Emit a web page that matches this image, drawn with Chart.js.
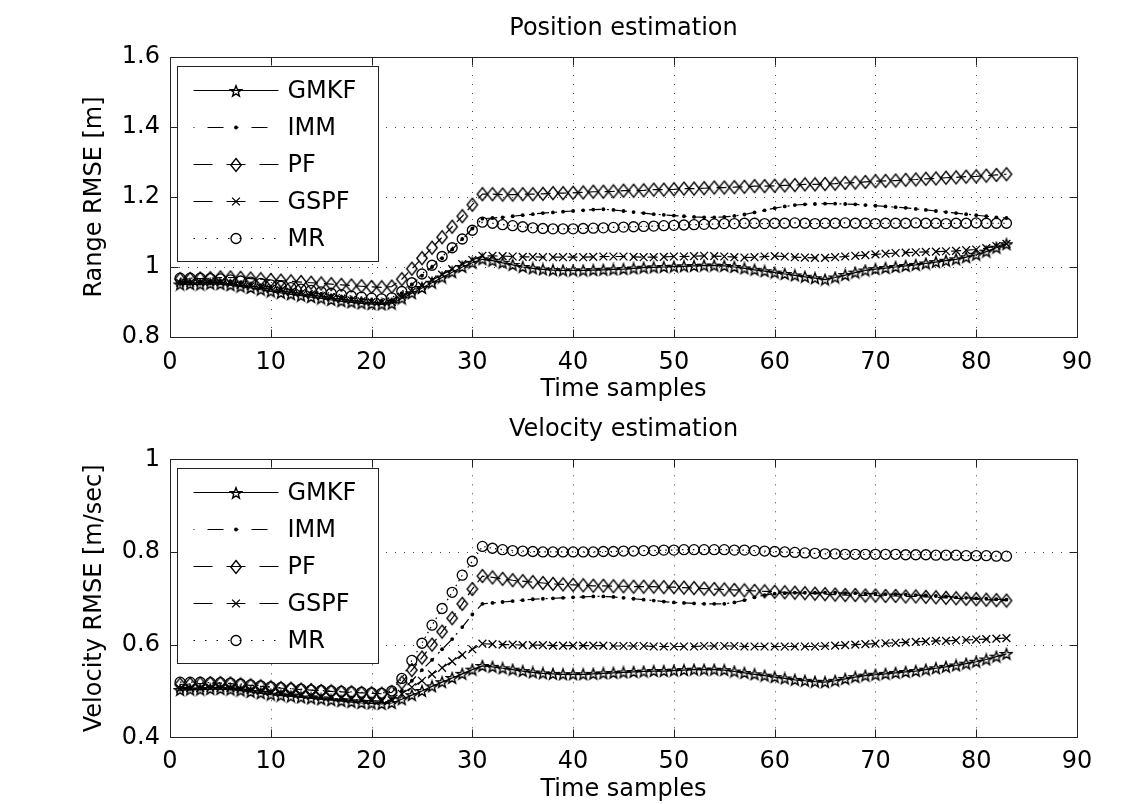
<!DOCTYPE html>
<html><head><meta charset="utf-8">
<script src="https://cdn.jsdelivr.net/npm/chart.js@4.4.1/dist/chart.umd.min.js"></script>
<style>
html,body{margin:0;padding:0;background:#fff;width:1148px;height:804px;overflow:hidden;}
#wrap{position:relative;width:1148px;height:804px;background:#fff;}
#c1{position:absolute;left:0;top:0;}
#c2{position:absolute;left:0;top:402px;}
</style></head><body>
<div id="wrap"><canvas id="c1" width="1148" height="420"></canvas><canvas id="c2" width="1148" height="410"></canvas></div>
<script>
// ---------------- data ----------------
const timeSamples = [1,2,3,4,5,6,7,8,9,10,11,12,13,14,15,16,17,18,19,20,21,22,23,24,25,26,27,28,29,30,31,32,33,34,35,36,37,38,39,40,41,42,43,44,45,46,47,48,49,50,51,52,53,54,55,56,57,58,59,60,61,62,63,64,65,66,67,68,69,70,71,72,73,74,75,76,77,78,79,80,81,82,83];
const seriesNames = ['GMKF','IMM','PF','GSPF','MR'];
const xTickLabels = ['0','10','20','30','40','50','60','70','80','90'];
const yTickLabelsPos = ['0.8','1','1.2','1.4','1.6'];
const yTickLabelsVel = ['0.4','0.6','0.8','1'];

// Position estimation (Range RMSE [m])
const posGMKF = [0.950,0.951,0.950,0.952,0.951,0.948,0.944,0.940,0.935,0.930,0.926,0.922,0.918,0.914,0.910,0.906,0.902,0.899,0.896,0.894,0.893,0.895,0.910,0.925,0.940,0.955,0.970,0.985,1.000,1.012,1.022,1.018,1.012,1.006,1.000,0.996,0.993,0.991,0.990,0.990,0.990,0.991,0.992,0.993,0.994,0.996,0.998,0.999,1.000,1.001,1.002,1.003,1.004,1.004,1.003,1.000,0.996,0.992,0.988,0.984,0.980,0.976,0.972,0.968,0.964,0.970,0.977,0.984,0.990,0.994,0.997,1.000,1.003,1.006,1.010,1.014,1.018,1.022,1.028,1.035,1.044,1.055,1.065];
const posIMM = [0.958,0.958,0.959,0.960,0.960,0.958,0.955,0.951,0.947,0.943,0.939,0.935,0.931,0.927,0.923,0.919,0.915,0.911,0.908,0.905,0.903,0.905,0.925,0.950,0.975,1.000,1.025,1.050,1.080,1.110,1.138,1.140,1.142,1.145,1.148,1.151,1.154,1.156,1.158,1.160,1.162,1.164,1.165,1.163,1.160,1.157,1.154,1.151,1.149,1.147,1.145,1.143,1.142,1.142,1.143,1.146,1.150,1.156,1.162,1.168,1.173,1.177,1.179,1.180,1.181,1.181,1.180,1.179,1.177,1.175,1.173,1.171,1.169,1.166,1.163,1.160,1.157,1.154,1.151,1.148,1.145,1.142,1.140];
const posPF = [0.965,0.966,0.967,0.968,0.970,0.970,0.969,0.967,0.965,0.963,0.961,0.959,0.957,0.955,0.953,0.951,0.949,0.947,0.945,0.943,0.942,0.944,0.965,0.995,1.025,1.055,1.085,1.115,1.145,1.178,1.208,1.208,1.207,1.207,1.208,1.208,1.209,1.211,1.211,1.212,1.213,1.215,1.215,1.216,1.218,1.218,1.219,1.221,1.221,1.222,1.224,1.224,1.225,1.227,1.227,1.228,1.229,1.231,1.231,1.232,1.233,1.234,1.236,1.236,1.237,1.238,1.240,1.241,1.243,1.245,1.246,1.247,1.249,1.250,1.252,1.253,1.255,1.256,1.258,1.259,1.261,1.263,1.265];
const posGSPF = [0.955,0.955,0.956,0.957,0.956,0.953,0.949,0.945,0.941,0.937,0.933,0.929,0.925,0.921,0.917,0.913,0.909,0.905,0.902,0.900,0.899,0.900,0.915,0.930,0.946,0.962,0.978,0.994,1.008,1.020,1.032,1.032,1.031,1.030,1.029,1.029,1.028,1.028,1.028,1.028,1.028,1.029,1.030,1.030,1.030,1.029,1.028,1.028,1.029,1.030,1.030,1.031,1.032,1.031,1.030,1.028,1.027,1.028,1.030,1.031,1.030,1.028,1.027,1.026,1.026,1.028,1.030,1.032,1.034,1.036,1.038,1.040,1.041,1.042,1.043,1.044,1.045,1.046,1.048,1.050,1.054,1.060,1.066];
const posMR = [0.968,0.968,0.968,0.967,0.966,0.963,0.960,0.957,0.953,0.949,0.945,0.941,0.937,0.933,0.929,0.925,0.921,0.917,0.914,0.911,0.909,0.912,0.930,0.955,0.980,1.005,1.030,1.055,1.080,1.105,1.128,1.125,1.121,1.118,1.115,1.112,1.110,1.109,1.109,1.109,1.110,1.111,1.112,1.113,1.114,1.115,1.116,1.117,1.118,1.119,1.120,1.121,1.122,1.123,1.124,1.124,1.125,1.125,1.124,1.125,1.125,1.126,1.125,1.124,1.125,1.125,1.126,1.125,1.125,1.124,1.125,1.125,1.125,1.126,1.125,1.125,1.124,1.125,1.125,1.126,1.125,1.125,1.125];

// Velocity estimation (Velocity RMSE [m/sec])
const velGMKF = [0.502,0.503,0.503,0.504,0.504,0.503,0.501,0.498,0.495,0.492,0.490,0.488,0.486,0.484,0.482,0.480,0.478,0.476,0.474,0.473,0.472,0.474,0.482,0.491,0.500,0.510,0.519,0.528,0.537,0.546,0.554,0.552,0.549,0.546,0.543,0.540,0.538,0.537,0.536,0.536,0.536,0.537,0.538,0.539,0.540,0.541,0.542,0.543,0.543,0.544,0.545,0.546,0.546,0.546,0.545,0.542,0.539,0.536,0.533,0.530,0.527,0.524,0.522,0.520,0.519,0.522,0.526,0.530,0.533,0.535,0.537,0.539,0.541,0.543,0.546,0.549,0.552,0.555,0.559,0.563,0.568,0.574,0.580];
const velIMM = [0.507,0.507,0.508,0.508,0.508,0.507,0.505,0.503,0.500,0.497,0.494,0.492,0.490,0.488,0.486,0.484,0.482,0.481,0.480,0.479,0.478,0.481,0.500,0.522,0.545,0.567,0.590,0.612,0.638,0.665,0.688,0.690,0.692,0.694,0.696,0.698,0.699,0.700,0.701,0.702,0.703,0.704,0.704,0.703,0.701,0.699,0.697,0.695,0.693,0.691,0.690,0.689,0.688,0.688,0.688,0.691,0.696,0.702,0.707,0.710,0.711,0.712,0.712,0.712,0.712,0.712,0.711,0.711,0.710,0.710,0.709,0.709,0.708,0.707,0.706,0.705,0.704,0.702,0.701,0.700,0.699,0.698,0.697];
const velPF = [0.514,0.515,0.516,0.517,0.517,0.516,0.514,0.512,0.510,0.508,0.506,0.505,0.503,0.502,0.500,0.499,0.498,0.497,0.496,0.495,0.494,0.497,0.518,0.545,0.572,0.600,0.628,0.657,0.688,0.720,0.748,0.745,0.742,0.739,0.737,0.735,0.733,0.731,0.730,0.729,0.728,0.727,0.727,0.726,0.726,0.725,0.725,0.725,0.724,0.724,0.723,0.722,0.721,0.720,0.719,0.718,0.717,0.716,0.715,0.714,0.713,0.712,0.711,0.710,0.709,0.708,0.707,0.707,0.706,0.706,0.705,0.705,0.704,0.704,0.703,0.702,0.701,0.700,0.699,0.698,0.697,0.696,0.695];
const velGSPF = [0.505,0.506,0.506,0.507,0.507,0.506,0.504,0.502,0.500,0.498,0.496,0.494,0.492,0.490,0.488,0.486,0.484,0.482,0.480,0.479,0.478,0.480,0.494,0.508,0.522,0.536,0.550,0.564,0.578,0.590,0.602,0.601,0.600,0.600,0.599,0.599,0.599,0.598,0.598,0.598,0.598,0.598,0.598,0.597,0.597,0.597,0.597,0.596,0.596,0.596,0.596,0.596,0.597,0.597,0.597,0.597,0.596,0.596,0.596,0.596,0.596,0.596,0.596,0.596,0.597,0.598,0.599,0.600,0.601,0.602,0.603,0.604,0.605,0.606,0.607,0.608,0.608,0.609,0.610,0.611,0.612,0.613,0.614];
const velMR = [0.519,0.519,0.519,0.518,0.518,0.517,0.515,0.513,0.511,0.509,0.507,0.505,0.504,0.502,0.501,0.500,0.499,0.498,0.497,0.496,0.495,0.500,0.527,0.566,0.603,0.642,0.678,0.713,0.750,0.780,0.812,0.808,0.805,0.803,0.802,0.801,0.800,0.800,0.800,0.800,0.800,0.800,0.801,0.801,0.802,0.802,0.803,0.803,0.804,0.804,0.805,0.805,0.805,0.805,0.805,0.804,0.804,0.803,0.802,0.801,0.800,0.799,0.798,0.797,0.796,0.796,0.795,0.795,0.795,0.795,0.795,0.795,0.794,0.794,0.794,0.793,0.793,0.793,0.792,0.792,0.792,0.791,0.791];

// ---------------- markers ----------------
function makeStar() {
  const c = document.createElement('canvas'); c.width = 14; c.height = 14;
  const g = c.getContext('2d'); g.strokeStyle = '#000'; g.lineWidth = 1.4; g.lineJoin = 'miter';
  g.beginPath();
  for (let i = 0; i < 10; i++) {
    const r = i % 2 ? 2.4 : 5.8; const a = -Math.PI / 2 + i * Math.PI / 5;
    const px = 7 + r * Math.cos(a), py = 7.5 + r * Math.sin(a);
    i ? g.lineTo(px, py) : g.moveTo(px, py);
  }
  g.closePath(); g.stroke(); return c;
}
function makeDiamond() {
  const c = document.createElement('canvas'); c.width = 14; c.height = 16;
  const g = c.getContext('2d'); g.strokeStyle = '#000'; g.lineWidth = 1.4;
  g.beginPath(); g.moveTo(7, 1.5); g.lineTo(12.2, 8); g.lineTo(7, 14.5); g.lineTo(1.8, 8); g.closePath(); g.stroke();
  return c;
}
const starImg = makeStar();
const diamondImg = makeDiamond();

const FONT = "'DejaVu Sans', sans-serif";

const styles = {
  GMKF: {borderDash: [], legendDash: [], pointStyle: starImg, pointRadius: 5, pointBackgroundColor: 'rgba(0,0,0,0)', pointBorderWidth: 1},
  IMM:  {borderDash: [12, 6, 2, 6], legendDash: [1, 13, 16, 14], pointStyle: 'circle', pointRadius: 1.9, pointBackgroundColor: '#000', pointBorderWidth: 0},
  PF:   {borderDash: [10, 6], legendDash: [19, 14], pointStyle: diamondImg, pointRadius: 6, pointBackgroundColor: 'rgba(0,0,0,0)', pointBorderWidth: 1},
  GSPF: {borderDash: [10, 6], legendDash: [19, 14], pointStyle: 'crossRot', pointRadius: 5.5, pointBackgroundColor: 'rgba(0,0,0,0)', pointBorderWidth: 1.3},
  MR:   {borderDash: [1.5, 4], legendDash: [1.5, 10], pointStyle: 'circle', pointRadius: 5, pointBackgroundColor: 'rgba(0,0,0,0)', pointBorderWidth: 1.3}
};

function buildDatasets(arrs) {
  return seriesNames.map((name, k) => Object.assign({
    label: name,
    data: timeSamples.map((t, i) => ({x: t, y: arrs[k][i]})),
    borderColor: '#000', borderWidth: 1.2, pointBorderColor: '#000',
    fill: false, tension: 0
  }, styles[name]));
}

function drawMarker(ctx, ds, x, y) {
  const ps = ds.pointStyle;
  ctx.save(); ctx.setLineDash([]); ctx.strokeStyle = '#000'; ctx.fillStyle = '#000'; ctx.lineWidth = ds.pointBorderWidth || 1;
  if (typeof ps !== 'string') {
    ctx.drawImage(ps, Math.round(x - ps.width / 2), Math.round(y - ps.height / 2));
  } else if (ps === 'circle') {
    ctx.beginPath(); ctx.arc(x, y, ds.pointRadius, 0, Math.PI * 2);
    if (ds.pointBorderWidth === 0) ctx.fill(); else ctx.stroke();
  } else if (ps === 'crossRot') {
    const o = ds.pointRadius * Math.SQRT1_2;
    ctx.beginPath(); ctx.moveTo(x - o, y - o); ctx.lineTo(x + o, y + o); ctx.moveTo(x - o, y + o); ctx.lineTo(x + o, y - o); ctx.stroke();
  }
  ctx.restore();
}

const matlabAxes = {
  id: 'matlabAxes',
  beforeDatasetsDraw(chart) {
    const {ctx, chartArea: a} = chart; const xs = chart.scales.x, ys = chart.scales.y;
    ctx.save(); ctx.strokeStyle = '#444'; ctx.lineWidth = 1; ctx.setLineDash([1, 8]);
    xs.ticks.forEach(t => {
      const px = Math.round(xs.getPixelForValue(t.value)) + 0.5;
      if (px <= a.left + 2 || px >= a.right - 2) return;
      ctx.beginPath(); ctx.moveTo(px, a.bottom); ctx.lineTo(px, a.top); ctx.stroke();
    });
    ys.ticks.forEach(t => {
      const py = Math.round(ys.getPixelForValue(t.value)) + 0.5;
      if (py <= a.top + 2 || py >= a.bottom - 2) return;
      ctx.beginPath(); ctx.moveTo(a.left, py); ctx.lineTo(a.right, py); ctx.stroke();
    });
    ctx.restore();
  },
  afterDatasetsDraw(chart) {
    const {ctx, chartArea: a} = chart; const xs = chart.scales.x, ys = chart.scales.y;
    ctx.save(); ctx.setLineDash([]); ctx.strokeStyle = '#222'; ctx.lineWidth = 1;
    const L = Math.round(a.left) + 0.5, R = Math.round(a.right) + 0.5, T = Math.round(a.top) + 0.5, B = Math.round(a.bottom) + 0.5;
    ctx.strokeRect(L, T, R - L, B - T);
    const tl = 8;
    ctx.beginPath();
    xs.ticks.forEach(t => {
      const px = Math.round(xs.getPixelForValue(t.value)) + 0.5;
      ctx.moveTo(px, B); ctx.lineTo(px, B - tl); ctx.moveTo(px, T); ctx.lineTo(px, T + tl);
    });
    ys.ticks.forEach(t => {
      const py = Math.round(ys.getPixelForValue(t.value)) + 0.5;
      ctx.moveTo(L, py); ctx.lineTo(L + tl, py); ctx.moveTo(R, py); ctx.lineTo(R - tl, py);
    });
    ctx.stroke();
    // legend
    const bx = L + 7, by = T + 9, bw = 201, bh = 195;
    ctx.fillStyle = '#fff'; ctx.fillRect(bx, by, bw, bh);
    ctx.strokeRect(bx, by, bw, bh);
    chart.data.datasets.forEach((ds, i) => {
      const ry = Math.round(by + 23 + i * 37) + 0.5;
      const x0 = bx + 16, x1 = bx + 101, xm = (x0 + x1) / 2;
      ctx.save(); ctx.setLineDash(ds.legendDash); ctx.lineWidth = 1.2; ctx.strokeStyle = '#000';
      ctx.beginPath(); ctx.moveTo(x0, ry); ctx.lineTo(x1, ry); ctx.stroke(); ctx.restore();
      drawMarker(ctx, ds, xm, ry);
      ctx.fillStyle = '#000'; ctx.font = '24px ' + FONT; ctx.textBaseline = 'middle'; ctx.textAlign = 'left';
      ctx.fillText(ds.label, bx + 110, ry + 1);
    });
    ctx.restore();
  }
};

function makeChart(id, cfg) {
  return new Chart(document.getElementById(id), {
    type: 'line',
    data: {datasets: buildDatasets(cfg.arrs)},
    options: {
      responsive: false, animation: false, events: [],
      layout: {padding: {left: 0, right: 71, top: 0, bottom: cfg.padBottom}},
      plugins: {
        legend: {display: false}, tooltip: {enabled: false},
        title: {display: true, fullSize: false, text: cfg.title, color: '#000', font: {family: FONT, size: 24, weight: 'normal', lineHeight: 1.2}, padding: {top: cfg.titleTop, bottom: cfg.titleBottom}}
      },
      scales: {
        x: {
          type: 'linear', min: 0, max: 90,
          grid: {display: false, drawTicks: false}, border: {display: false},
          ticks: {stepSize: 10, padding: cfg.xTickPad, color: '#000', font: {family: FONT, size: 24, lineHeight: 1.2}, maxRotation: 0,
            callback: (v, i) => xTickLabels[i]},
          title: {display: true, text: 'Time samples', color: '#000', font: {family: FONT, size: 24, lineHeight: 1.2}, padding: {top: 0, bottom: cfg.xTitlePad}},
          afterFit: s => { s.height = 70; }
        },
        y: {
          type: 'linear', min: cfg.ymin, max: cfg.ymax,
          grid: {display: false, drawTicks: false}, border: {display: false},
          ticks: {stepSize: 0.2, padding: 10, color: '#000', font: {family: FONT, size: 24, lineHeight: 1.2},
            callback: (v, i) => cfg.yLabels[i]},
          title: {display: true, text: cfg.yTitle, color: '#000', font: {family: FONT, size: 24, lineHeight: 1.2}, padding: {top: 80.6, bottom: 0}},
          afterFit: s => { s.width = 170; }
        }
      }
    },
    plugins: [matlabAxes]
  });
}

makeChart('c1', {
  arrs: [posGMKF, posIMM, posPF, posGSPF, posMR],
  title: 'Position estimation', yTitle: 'Range RMSE [m]',
  ymin: 0.8, ymax: 1.6, yLabels: yTickLabelsPos,
  padBottom: 13, titleTop: 14.6, titleBottom: 13.6, xTickPad: 11, xTitlePad: 2.6
});
makeChart('c2', {
  arrs: [velGMKF, velIMM, velPF, velGSPF, velMR],
  title: 'Velocity estimation', yTitle: 'Velocity RMSE [m/sec]',
  ymin: 0.4, ymax: 1.0, yLabels: yTickLabelsVel,
  padBottom: 4.7, titleTop: 13.6, titleBottom: 14.9, xTickPad: 9.8, xTitlePad: 2.9
});
</script>
</body></html>
